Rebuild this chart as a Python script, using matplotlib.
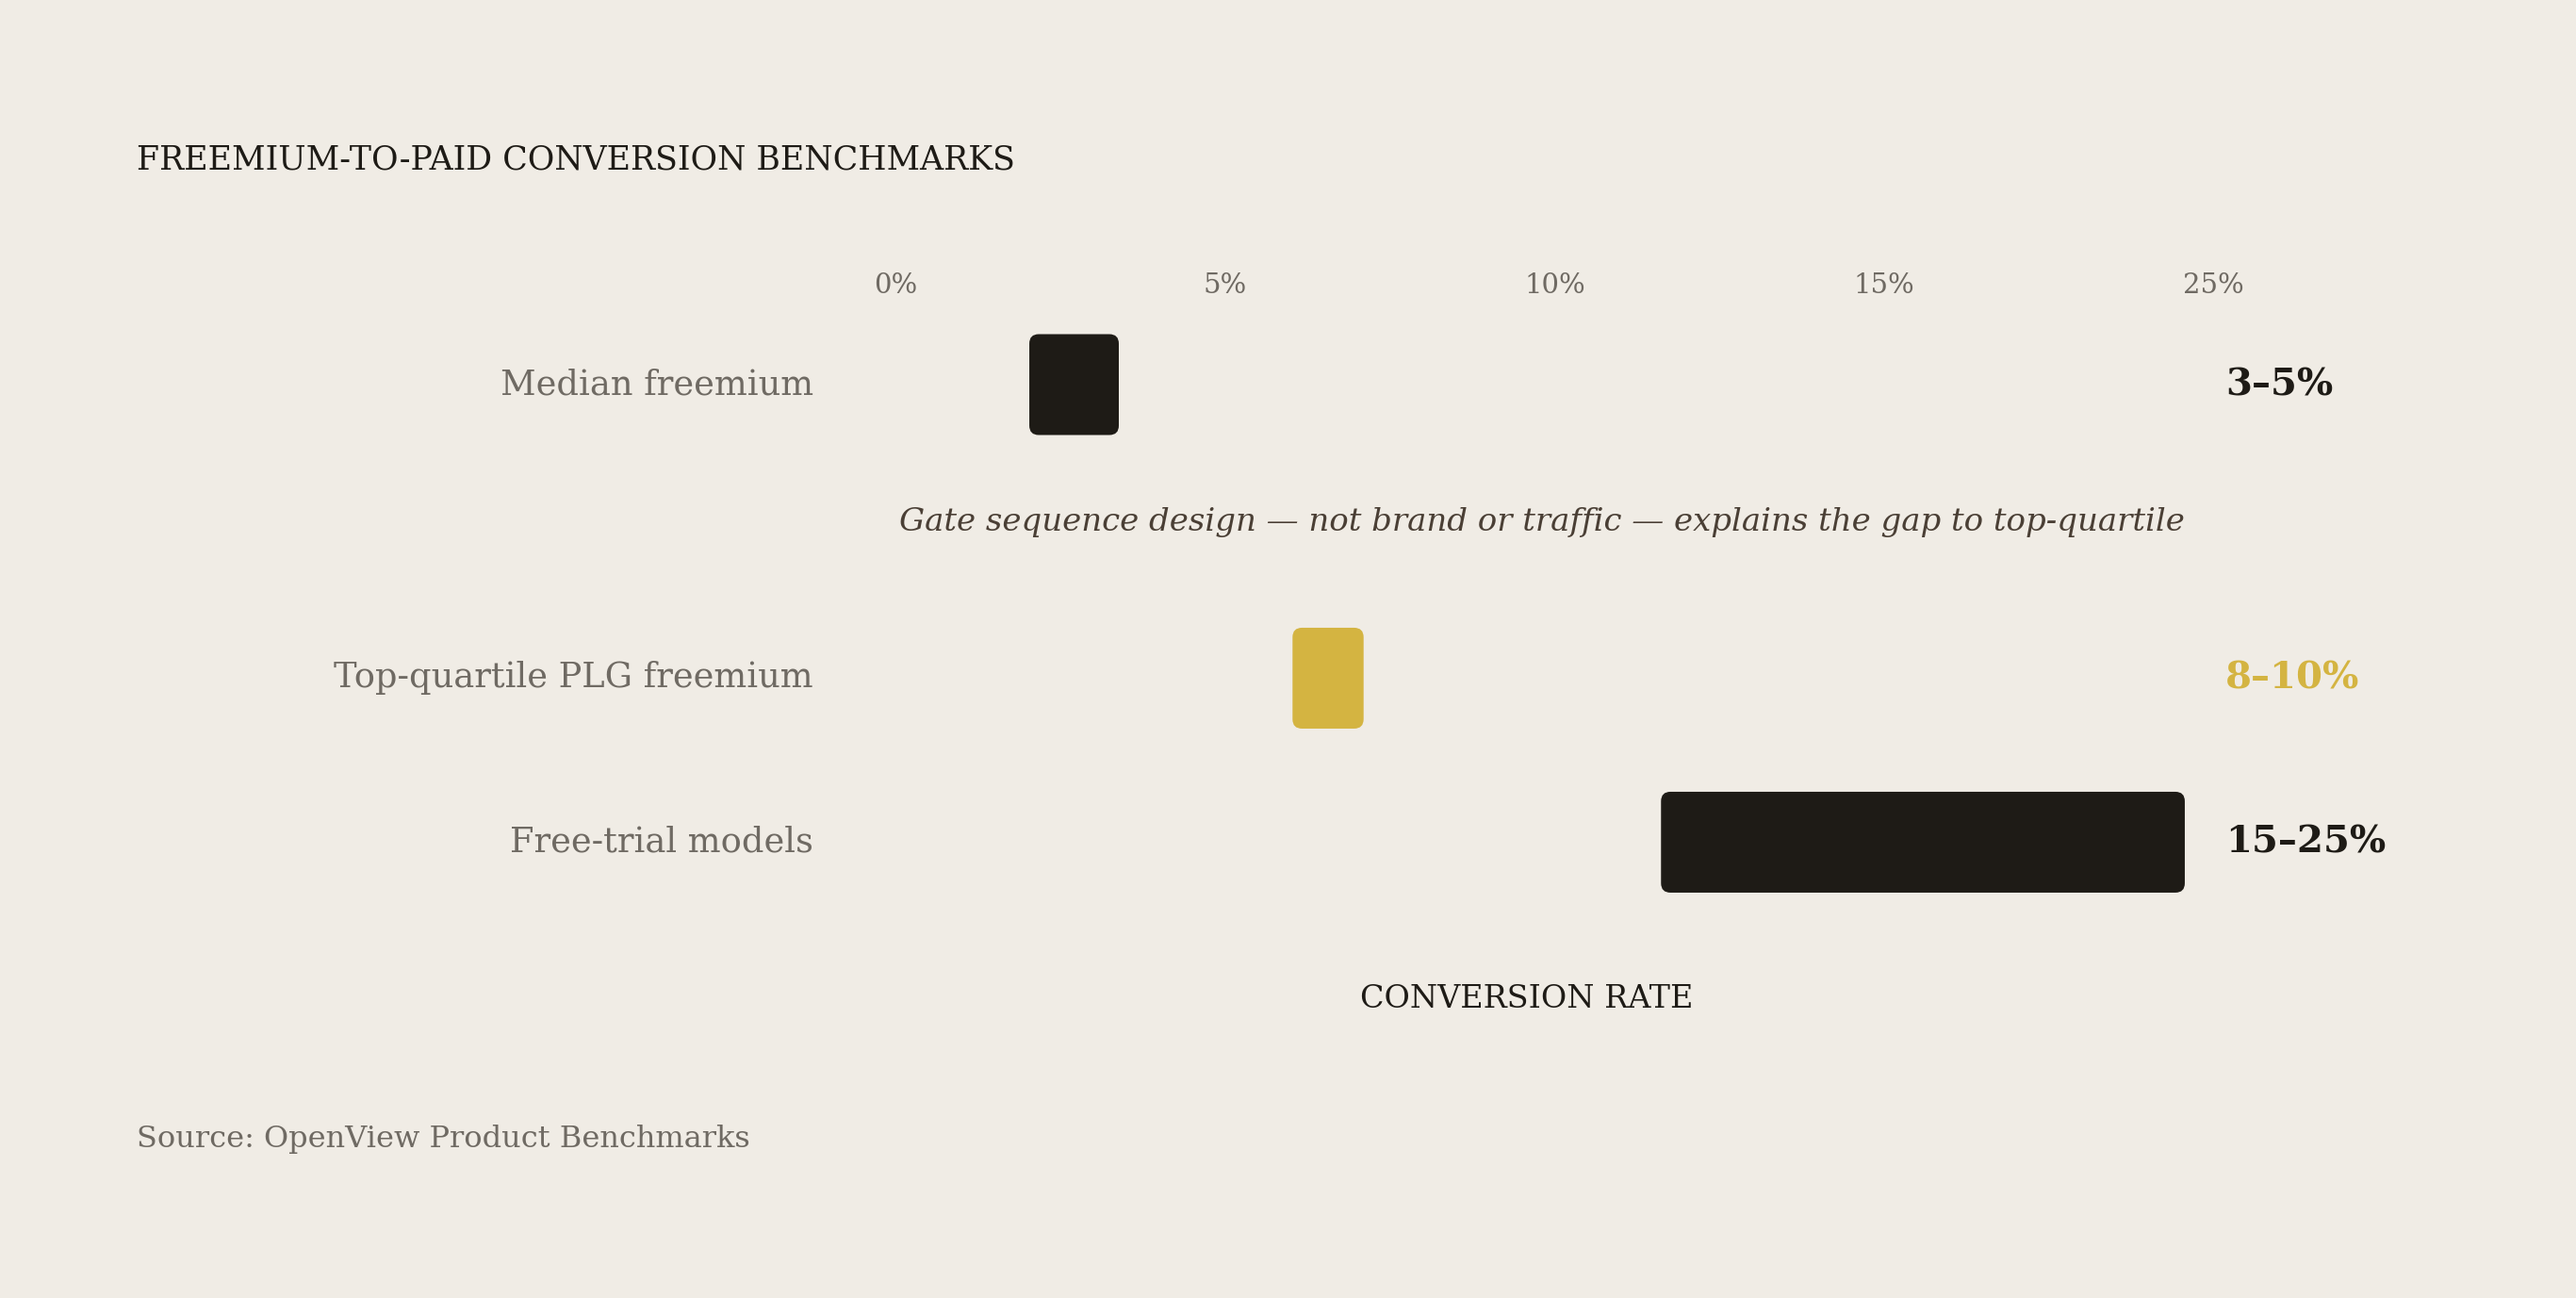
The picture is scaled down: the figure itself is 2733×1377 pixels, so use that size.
import matplotlib
matplotlib.use("Agg")
import matplotlib.pyplot as plt
import numpy as np
from matplotlib.patches import FancyBboxPatch

# data
categories = ["Median freemium", "Top-quartile PLG freemium", "Free-trial models"]
low = [3.0, 8.0, 15.0]
high = [4.7, 9.35, 24.95]
range_labels = ["3–5%", "8–10%", "15–25%"]
row_pos = [0.0, 1.79, 2.79]
tick_labels = ["0%", "5%", "10%", "15%", "25%"]
note = "Gate sequence design — not brand or traffic — explains the gap to top-quartile"

BG = "#f0ece5"
INK = "#1e1b16"
GOLD = "#d4b441"
GREY = "#6f6a63"
bar_colors = [INK, GOLD, INK]

W, H = 2733, 1377
plt.rcParams["font.family"] = ["DejaVu Serif"]

fig = plt.figure(figsize=(W / 100, H / 100), dpi=100, facecolor=BG)

# axes placed in pixel terms: x 900..2400, y 318..1000
x0, x1 = 900, 2400
y0, y1 = 318, 1000
ax = fig.add_axes([x0 / W, 1 - y1 / H, (x1 - x0) / W, (y1 - y0) / H])
ax.set_facecolor(BG)
px_per_unit = 55.85
origin = 924.5
ax.set_xlim((x0 - origin) / px_per_unit, (x1 - origin) / px_per_unit)
row_px = 174.0
ax.set_ylim((y1 - 408) / row_px, (y0 - 408) / row_px)

bar_h = 107 / row_px
rx = 10 / px_per_unit
aspect = (10 / row_px) / rx
for lo, hi, y, c in zip(low, high, row_pos, bar_colors):
    ax.add_patch(FancyBboxPatch((lo, y - bar_h / 2), hi - lo, bar_h,
                                boxstyle=f"round,pad=0,rounding_size={rx}",
                                mutation_aspect=aspect, facecolor=c,
                                edgecolor="none"))

lab_x = (863 - origin) / px_per_unit
val_x = (2361 - origin) / px_per_unit
for cat, lab, y, c in zip(categories, range_labels, row_pos, bar_colors):
    ax.text(lab_x, y, cat, ha="right", va="center", fontsize=26.5,
            color=GREY, clip_on=False)
    ax.text(val_x, y, lab, ha="left", va="center", fontsize=29,
            fontweight="bold", color=c, clip_on=False)

ax.text((1636 - origin) / px_per_unit, (554 - 408) / row_px, note,
        ha="center", va="center", fontsize=24.5, style="italic",
        color="#4a3f35")

ax.xaxis.tick_top()
ax.set_xticks(np.linspace(0.46, 25.5, len(tick_labels)))
ax.set_xticklabels(tick_labels, fontsize=21, color=GREY)
ax.tick_params(axis="x", length=0, pad=1)
ax.set_yticks([])
for s in ax.spines.values():
    s.set_visible(False)

fig.text(145 / W, 1 - 180 / H, "FREEMIUM-TO-PAID CONVERSION BENCHMARKS",
         ha="left", va="baseline", fontsize=25, color=INK)
fig.text(1620 / W, 1 - 1060 / H, "CONVERSION RATE", ha="center",
         va="center", fontsize=24, color=INK)
fig.text(145 / W, 1 - 1217 / H, "Source: OpenView Product Benchmarks",
         ha="left", va="baseline", fontsize=23, color=GREY)

fig.savefig("out.png", dpi=100, facecolor=BG)
